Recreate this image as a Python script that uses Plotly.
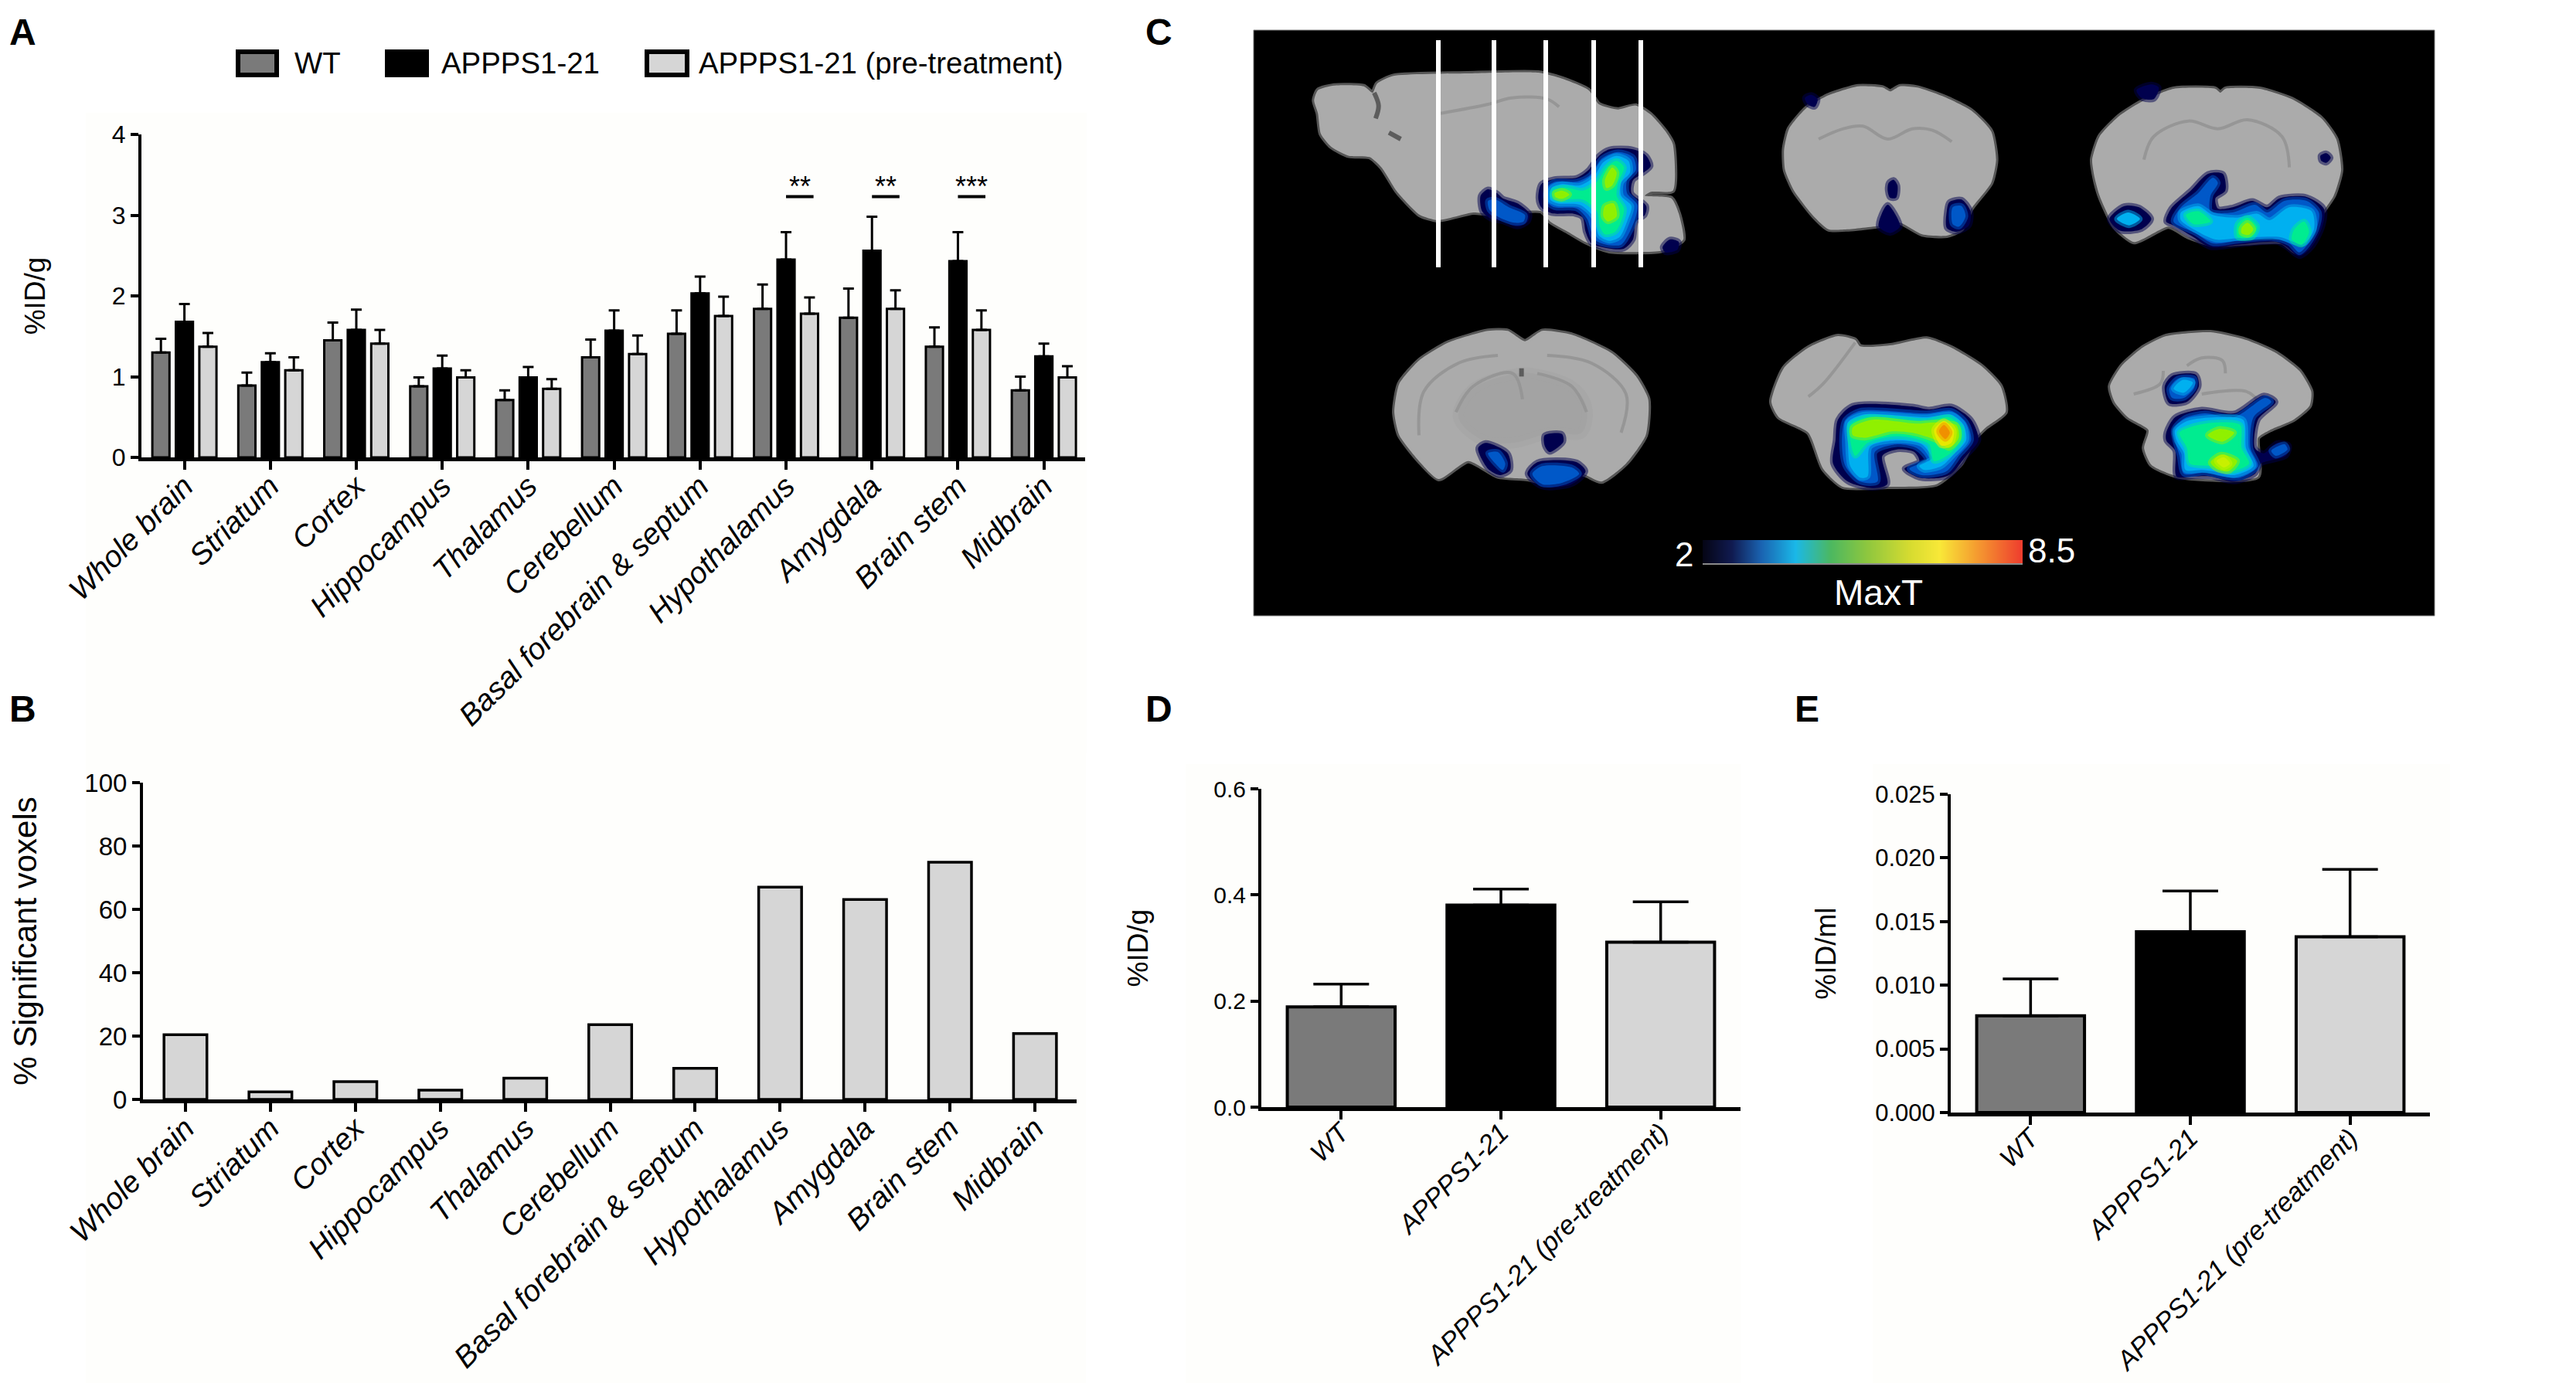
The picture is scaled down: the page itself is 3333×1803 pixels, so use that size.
import plotly.graph_objects as go

W, H = 3333, 1803
PAGE_MARGIN = 8  # the browser body margin pushes the plot by this much
FONT = "Liberation Sans"

regions = ['Whole brain', 'Striatum', 'Cortex', 'Hippocampus', 'Thalamus', 'Cerebellum',
           'Basal forebrain & septum', 'Hypothalamus', 'Amygdala', 'Brain stem', 'Midbrain']
groups = ['WT', 'APPPS1-21', 'APPPS1-21 (pre-treatment)']

# panel A, means and tops of the error bars
a_wt = [1.30, 0.89, 1.45, 0.88, 0.71, 1.24, 1.53, 1.84, 1.73, 1.37, 0.83]
a_app = [1.68, 1.18, 1.58, 1.10, 0.99, 1.57, 2.03, 2.45, 2.56, 2.43, 1.25]
a_pre = [1.37, 1.08, 1.41, 0.99, 0.85, 1.28, 1.75, 1.78, 1.84, 1.58, 0.99]
a_wt_top = [1.47, 1.05, 1.67, 0.99, 0.83, 1.46, 1.82, 2.14, 2.09, 1.61, 1.00]
a_app_top = [1.90, 1.29, 1.83, 1.26, 1.12, 1.82, 2.24, 2.79, 2.98, 2.79, 1.41]
a_pre_top = [1.54, 1.24, 1.58, 1.08, 0.97, 1.51, 1.99, 1.98, 2.07, 1.82, 1.13]

sig_start = [7, 8, 9]
sig_stars = ['**', '**', '***']

# panel B
b_voxels = [20.4, 2.4, 5.6, 2.9, 6.7, 23.6, 9.8, 67.0, 63.1, 74.9, 20.8]

# panels D and E
d_vals = [0.189, 0.381, 0.311]
d_tops = [0.232, 0.411, 0.387]
e_vals = [0.0076, 0.0142, 0.0138]
e_tops = [0.0105, 0.0174, 0.0191]

GREY_BAR = '#7a7a7a'
LIGHT_BAR = '#d6d6d6'
CREAM = '#fefefc'
BRAIN = '#ababab'
SULCUS = '#969696'
NAVY = '#00004e'
BLUE = '#0058c8'
CYAN = '#00b0f0'
GREEN = '#00ec90'
LIME = '#90f000'
YELLOW = '#e8e800'
ORANGE = '#f09000'

# panel C is drawn on an axis in image pixels, outlines were read from four crops
# crop = (left, top, x scale, y scale)
CROP_TL = (1600, 20, 2.613, 3)
CROP_TR = (2200, 20, 1.568, 3)
CROP_BL = (1600, 400, 1.568, 3)
CROP_BR = (2600, 400, 2.613, 3)

slice_x = [1861, 1933, 2000, 2062, 2123]
slice_top = 52
slice_bottom = 346

brain_outlines = [
    (CROP_TL, [(262, 330), (275, 290), (330, 272), (430, 275), (460, 300), (475, 265), (530, 235), (780, 225), (1020, 222),
               (1100, 245), (1190, 290), (1225, 345), (1290, 365), (1350, 350), (1400, 385), (1450, 450), (1475, 500),
               (1475, 680), (1400, 685), (1380, 700), (1470, 710), (1495, 770), (1510, 870), (1470, 900), (1430, 915),
               (1260, 915), (1180, 880), (1120, 840), (1060, 800), (1030, 760), (850, 770), (800, 765), (680, 795),
               (620, 775), (570, 720), (540, 680), (490, 590), (450, 550), (380, 545), (320, 510), (285, 460), (275, 380)]),
    (CROP_TR, [(170, 520), (180, 440), (215, 360), (260, 310), (320, 275), (370, 280), (385, 295), (405, 275), (440, 280),
               (500, 320), (550, 370), (590, 450), (600, 560), (590, 650), (550, 750), (530, 830), (500, 855), (450, 850),
               (405, 805), (370, 815), (300, 830), (260, 830), (230, 780), (190, 680), (172, 600)]),
    (CROP_TR, [(795, 560), (810, 470), (850, 390), (900, 330), (960, 285), (1045, 285), (1055, 300), (1065, 285), (1135, 285),
               (1200, 325), (1260, 400), (1290, 480), (1300, 600), (1285, 700), (1260, 770), (1230, 850), (1210, 920),
               (1180, 880), (1040, 890), (990, 860), (950, 820), (880, 880), (840, 820), (810, 700), (800, 630)]),
    (CROP_BL, [(320, 400), (330, 290), (370, 200), (430, 130), (510, 85), (550, 85), (585, 125), (620, 85), (680, 100),
               (760, 170), (810, 260), (835, 350), (830, 490), (790, 600), (740, 670), (700, 640), (640, 680), (590, 660),
               (530, 650), (470, 590), (410, 660), (370, 590), (330, 490)]),
    (CROP_BL, [(1085, 360), (1110, 230), (1160, 150), (1220, 105), (1255, 120), (1265, 145), (1330, 140), (1400, 115),
               (1450, 150), (1510, 220), (1550, 300), (1560, 400), (1520, 460), (1495, 510), (1470, 600), (1420, 680),
               (1320, 690), (1230, 690), (1190, 620), (1160, 480), (1100, 420)]),
    (CROP_BR, [(340, 300), (380, 220), (450, 150), (530, 105), (680, 90), (800, 120), (900, 170), (980, 240), (1020, 320),
               (1015, 375), (960, 430), (880, 470), (840, 500), (840, 650), (570, 650), (480, 605), (455, 540), (470, 470),
               (400, 420), (355, 360)]),
]

# darker deep grey part inside the slice
inner_regions = [
    (CROP_BL, [(450, 420), (480, 310), (570, 250), (600, 250), (680, 300), (710, 380), (700, 480), (640, 480), (560, 520), (500, 510)]),
]

sulci = [
    (CROP_TL, [(690, 380), (850, 345), (930, 320), (1050, 325), (1090, 355)]),
    (CROP_TR, [(240, 480), (290, 440), (330, 430), (380, 480), (430, 440), (470, 445), (510, 490)]),
    (CROP_TR, [(900, 560), (920, 470), (990, 410), (1050, 440), (1110, 405), (1180, 470), (1195, 590)]),
    (CROP_BL, [(370, 490), (380, 320), (450, 210), (530, 180)]),
    (CROP_BL, [(780, 480), (790, 330), (720, 210), (630, 180)]),
    (CROP_BL, [(445, 400), (480, 300), (560, 250), (580, 350)]),
    (CROP_BL, [(710, 400), (680, 300), (610, 250)]),
    (CROP_BL, [(1160, 340), (1190, 290), (1255, 130)]),
    (CROP_BR, [(420, 330), (510, 290), (520, 240)]),
    (CROP_BR, [(650, 330), (800, 320), (840, 355)]),
    (CROP_BR, [(600, 220), (650, 190), (720, 200), (730, 250)]),
]
dark_sulci = [
    (CROP_TL, [(465, 300), (480, 350), (470, 400)]),
    (CROP_TL, [(515, 455), (555, 480)]),
    (CROP_BL, [(578, 230), (578, 262)]),
]

# significant voxels, from outer contour to inner contour
blobs = [
    (CROP_TL, NAVY, [(1030, 655), (1075, 635), (1150, 630), (1190, 600), (1225, 545), (1260, 520), (1340, 520), (1385, 545),
                     (1400, 585), (1370, 615), (1340, 640), (1335, 690), (1385, 740), (1380, 775), (1350, 800), (1340, 870),
                     (1310, 905), (1260, 905), (1200, 885), (1180, 840), (1170, 785), (1140, 770), (1065, 768), (1030, 745), (1020, 710)]),
    (CROP_TL, BLUE, [(1055, 660), (1080, 645), (1150, 645), (1195, 620), (1235, 555), (1290, 530), (1340, 550), (1350, 600),
                     (1320, 640), (1320, 690), (1355, 735), (1350, 780), (1325, 850), (1300, 890), (1250, 890), (1210, 870),
                     (1185, 790), (1150, 750), (1075, 745), (1050, 725), (1045, 690)]),
    (CROP_TL, CYAN, [(1065, 670), (1100, 655), (1160, 660), (1205, 630), (1240, 570), (1285, 545), (1325, 565), (1330, 610),
                     (1300, 650), (1300, 700), (1335, 740), (1320, 800), (1295, 860), (1260, 875), (1225, 855), (1205, 780),
                     (1160, 735), (1085, 730), (1060, 715)]),
    (CROP_TL, GREEN, [(1070, 680), (1110, 668), (1170, 680), (1215, 650), (1250, 590), (1285, 565), (1310, 590), (1290, 650),
                      (1285, 700), (1310, 750), (1300, 800), (1280, 840), (1245, 850), (1228, 820), (1218, 760), (1170, 715),
                      (1090, 715), (1068, 700)]),
    (CROP_TL, LIME, [(1075, 690), (1100, 680), (1125, 695), (1100, 712), (1078, 705)]),
    (CROP_TL, LIME, [(1245, 640), (1270, 590), (1285, 610), (1270, 660), (1250, 670)]),
    (CROP_TL, LIME, [(1245, 740), (1275, 730), (1285, 780), (1255, 800), (1240, 780)]),
    (CROP_TL, NAVY, [(825, 700), (850, 675), (880, 690), (900, 710), (950, 730), (990, 770), (985, 800), (950, 820), (900, 800), (860, 790), (830, 760)]),
    (CROP_TL, BLUE, [(850, 720), (875, 715), (920, 745), (975, 775), (970, 800), (940, 805), (890, 785), (855, 755)]),
    (CROP_TL, NAVY, [(1440, 900), (1465, 870), (1495, 880), (1490, 910), (1450, 920)]),

    (CROP_TR, NAVY, [(212, 320), (225, 308), (238, 325), (232, 355), (218, 345)]),
    (CROP_TR, NAVY, [(382, 650), (392, 638), (400, 660), (397, 708), (385, 708), (380, 680)]),
    (CROP_TR, NAVY, [(380, 735), (395, 770), (405, 820), (385, 845), (362, 820), (368, 770)]),
    (CROP_TR, NAVY, [(505, 725), (530, 715), (548, 760), (545, 815), (520, 840), (500, 825), (500, 760)]),
    (CROP_TR, BLUE, [(512, 745), (530, 740), (538, 780), (525, 820), (512, 810)]),

    (CROP_TR, NAVY, [(1030, 615), (1060, 615), (1065, 680), (1045, 710), (1050, 750), (1080, 745), (1120, 720), (1150, 745),
                     (1175, 710), (1230, 705), (1265, 750), (1262, 820), (1240, 900), (1215, 935), (1190, 900), (1170, 880),
                     (1090, 890), (1035, 900), (1000, 860), (960, 815), (945, 800), (955, 750), (995, 680)]),
    (CROP_TR, BLUE, [(1040, 630), (1050, 650), (1035, 700), (1035, 760), (1080, 765), (1125, 735), (1150, 765), (1185, 720),
                     (1230, 720), (1255, 765), (1250, 830), (1230, 895), (1215, 920), (1195, 885), (1160, 865), (1090, 875),
                     (1040, 885), (1005, 845), (960, 800), (975, 745), (1010, 690)]),
    (CROP_TR, CYAN, [(975, 765), (1010, 740), (1040, 775), (1090, 785), (1130, 770), (1155, 795), (1195, 745), (1240, 760),
                     (1245, 830), (1225, 885), (1205, 880), (1175, 860), (1090, 865), (1045, 870), (1005, 835), (975, 795)]),
    (CROP_TR, GREEN, [(985, 775), (1010, 760), (1035, 800), (1000, 810)]),
    (CROP_TR, GREEN, [(1090, 810), (1110, 785), (1130, 820), (1120, 860), (1090, 860)]),
    (CROP_TR, GREEN, [(1205, 830), (1225, 800), (1235, 840), (1220, 890), (1200, 870)]),
    (CROP_TR, LIME, [(1098, 825), (1110, 805), (1122, 830), (1112, 852), (1098, 845)]),
    (CROP_TR, NAVY, [(830, 790), (860, 740), (890, 745), (915, 790), (895, 830), (850, 835)]),
    (CROP_TR, CYAN, [(845, 790), (868, 765), (892, 790), (870, 815)]),
    (CROP_TR, NAVY, [(885, 290), (915, 268), (930, 280), (920, 325), (895, 320)]),
    (CROP_TR, NAVY, [(1258, 545), (1270, 535), (1279, 552), (1270, 572), (1260, 565)]),

    (CROP_BL, NAVY, [(490, 540), (505, 520), (550, 560), (555, 625), (535, 645), (510, 620)]),
    (CROP_BL, BLUE, [(510, 560), (530, 555), (545, 600), (540, 625), (525, 600)]),
    (CROP_BL, NAVY, [(625, 490), (660, 485), (663, 515), (635, 555), (625, 530)]),
    (CROP_BL, NAVY, [(590, 640), (610, 595), (690, 595), (708, 630), (680, 680), (620, 690)]),
    (CROP_BL, BLUE, [(600, 640), (620, 610), (680, 615), (695, 640), (660, 675), (620, 680)]),

    (CROP_BL, NAVY, [(1220, 430), (1250, 375), (1370, 378), (1405, 390), (1450, 378), (1490, 430), (1505, 510), (1480, 570),
                     (1450, 640), (1430, 655), (1385, 655), (1355, 620), (1385, 590), (1375, 555), (1340, 545), (1310, 570),
                     (1320, 680), (1290, 695), (1240, 670), (1210, 600), (1215, 510)]),
    (CROP_BL, BLUE, [(1235, 430), (1265, 395), (1400, 405), (1450, 395), (1480, 440), (1490, 510), (1465, 570), (1440, 630),
                     (1390, 645), (1365, 620), (1400, 585), (1380, 540), (1340, 525), (1295, 555), (1300, 670), (1265, 670),
                     (1235, 610), (1228, 510)]),
    (CROP_BL, CYAN, [(1240, 440), (1270, 410), (1400, 420), (1450, 410), (1475, 450), (1480, 510), (1455, 565), (1430, 610),
                     (1395, 625), (1385, 610), (1410, 580), (1390, 525), (1340, 510), (1285, 535), (1280, 650), (1265, 655),
                     (1245, 610), (1240, 510)]),
    (CROP_BL, GREEN, [(1245, 450), (1280, 420), (1400, 435), (1445, 420), (1470, 460), (1470, 510), (1445, 565), (1415, 590),
                      (1405, 525), (1370, 500), (1330, 495), (1280, 520), (1255, 570), (1245, 510)]),
    (CROP_BL, LIME, [(1250, 460), (1290, 430), (1380, 445), (1415, 440), (1460, 450), (1465, 500), (1445, 540), (1420, 510),
                     (1370, 480), (1330, 475), (1275, 500), (1250, 490)]),
    (CROP_BL, YELLOW, [(1415, 470), (1435, 435), (1455, 470), (1450, 520), (1430, 530)]),
    (CROP_BL, ORANGE, [(1425, 475), (1435, 450), (1447, 480), (1438, 505)]),

    (CROP_BR, NAVY, [(525, 300), (550, 260), (630, 255), (640, 300), (600, 360), (540, 365)]),
    (CROP_BR, BLUE, [(540, 310), (570, 270), (625, 270), (625, 305), (590, 345), (550, 345)]),
    (CROP_BR, CYAN, [(555, 310), (585, 275), (620, 285), (590, 325)]),
    (CROP_BR, NAVY, [(530, 480), (560, 420), (650, 390), (760, 405), (860, 335), (900, 360), (840, 430), (830, 540), (860, 560),
                     (905, 520), (945, 530), (935, 570), (850, 600), (830, 640), (760, 670), (680, 650), (620, 650), (565, 650),
                     (560, 550), (530, 510)]),
    (CROP_BR, BLUE, [(885, 550), (930, 525), (940, 545), (900, 570)]),
    (CROP_BR, BLUE, [(555, 470), (590, 425), (660, 405), (760, 420), (865, 345), (885, 360), (825, 420), (815, 540), (840, 610),
                     (780, 655), (720, 650), (660, 635), (590, 640), (575, 570)]),
    (CROP_BR, CYAN, [(560, 470), (600, 435), (700, 420), (790, 430), (800, 540), (825, 610), (760, 645), (690, 630), (650, 625),
                     (595, 625), (590, 560), (565, 510)]),
    (CROP_BR, GREEN, [(575, 480), (620, 455), (700, 440), (780, 450), (785, 540), (810, 600), (750, 630), (680, 610), (610, 600), (600, 540)]),
    (CROP_BR, LIME, [(670, 490), (710, 465), (760, 480), (720, 515)]),
    (CROP_BR, LIME, [(680, 595), (715, 565), (770, 590), (740, 630), (700, 620)]),
    (CROP_BR, '#c8f000', [(700, 590), (725, 575), (745, 600), (725, 615)]),
]

# MaxT scale
maxt_vals = [2.0, 2.5, 3.0, 3.5, 4.0, 4.5, 5.0, 5.5, 6.0, 6.5, 7.0, 7.5, 8.0, 8.5]
maxt_scale = [[0.0, '#050515'], [0.09, '#101a50'], [0.18, '#1a62b0'], [0.29, '#1ab8e8'], [0.40, '#4cb860'],
              [0.51, '#8cc63f'], [0.65, '#d8dc30'], [0.74, '#f8e838'], [0.85, '#f5a030'], [1.0, '#ee3b2e']]


def dom_x(left, right):
    return [(left - PAGE_MARGIN) / W, (right - PAGE_MARGIN) / W]


def dom_y(top, bottom):
    return [1 - (bottom - PAGE_MARGIN) / H, 1 - (top - PAGE_MARGIN) / H]


def crop_xy(crop, pts):
    left, top, sx, sy = crop
    return [left + p[0] / sx for p in pts], [top + p[1] / sy for p in pts]


def soft(color, alpha=0.5):
    r, g, b = int(color[1:3], 16), int(color[3:5], 16), int(color[5:7], 16)
    return f'rgba({r},{g},{b},{alpha})'


def err(tops, vals):
    return [round(t - v, 4) for t, v in zip(tops, vals)]


def err_bar(tops, vals, thick, half):
    return dict(type='data', symmetric=False, array=err(tops, vals), arrayminus=[0] * len(vals),
                color='black', thickness=thick, width=half)


fig = go.Figure()

fig.add_bar(x=regions, y=a_wt, marker=dict(color=GREY_BAR, line=dict(color='black', width=3)),
            error_y=err_bar(a_wt_top, a_wt, 3, 7), xaxis='x', yaxis='y', showlegend=False, name=groups[0])
fig.add_bar(x=regions, y=a_app, marker=dict(color='black', line=dict(color='black', width=3)),
            error_y=err_bar(a_app_top, a_app, 3, 7), xaxis='x', yaxis='y', showlegend=False, name=groups[1])
fig.add_bar(x=regions, y=a_pre, marker=dict(color=LIGHT_BAR, line=dict(color='black', width=3)),
            error_y=err_bar(a_pre_top, a_pre, 3, 7), xaxis='x', yaxis='y', showlegend=False, name=groups[2])

fig.add_bar(x=regions, y=b_voxels, width=0.505, marker=dict(color=LIGHT_BAR, line=dict(color='black', width=3.5)),
            xaxis='x2', yaxis='y2', showlegend=False)

bar_colors = [GREY_BAR, 'black', LIGHT_BAR]
fig.add_bar(x=groups, y=d_vals, width=0.675, marker=dict(color=bar_colors, line=dict(color='black', width=4)),
            error_y=err_bar(d_tops, d_vals, 3.5, 36), xaxis='x3', yaxis='y3', showlegend=False)
fig.add_bar(x=groups, y=e_vals, width=0.675, marker=dict(color=bar_colors, line=dict(color='black', width=4)),
            error_y=err_bar(e_tops, e_vals, 3.5, 36), xaxis='x4', yaxis='y4', showlegend=False)

# panel C, half transparent outlines keep the steps between contours soft
for crop, pts in brain_outlines:
    xs, ys = crop_xy(crop, pts)
    fig.add_scatter(x=xs + xs[:1], y=ys + ys[:1], mode='lines', fill='toself', fillcolor=BRAIN,
                    line=dict(color=soft(BRAIN), width=6, shape='spline', smoothing=0.6),
                    xaxis='x5', yaxis='y5', showlegend=False, hoverinfo='skip')
for crop, pts in inner_regions:
    xs, ys = crop_xy(crop, pts)
    fig.add_scatter(x=xs + xs[:1], y=ys + ys[:1], mode='lines', fill='toself', fillcolor='#a3a3a3',
                    line=dict(color=soft('#a3a3a3'), width=14, shape='spline'),
                    xaxis='x5', yaxis='y5', showlegend=False, hoverinfo='skip')
for crop, pts in sulci:
    xs, ys = crop_xy(crop, pts)
    fig.add_scatter(x=xs, y=ys, mode='lines', line=dict(color=SULCUS, width=4, shape='spline'),
                    xaxis='x5', yaxis='y5', showlegend=False, hoverinfo='skip')
for crop, pts in dark_sulci:
    xs, ys = crop_xy(crop, pts)
    fig.add_scatter(x=xs, y=ys, mode='lines', line=dict(color='#5c5c5c', width=6, shape='spline'),
                    xaxis='x5', yaxis='y5', showlegend=False, hoverinfo='skip')
for crop, color, pts in blobs:
    xs, ys = crop_xy(crop, pts)
    fig.add_scatter(x=xs + xs[:1], y=ys + ys[:1], mode='lines', fill='toself', fillcolor=color,
                    line=dict(color=soft(color), width=7, shape='spline', smoothing=0.8),
                    xaxis='x5', yaxis='y5', showlegend=False, hoverinfo='skip')
for sx in slice_x:
    fig.add_scatter(x=[sx, sx], y=[slice_top, slice_bottom], mode='lines', line=dict(color='white', width=6),
                    xaxis='x5', yaxis='y5', showlegend=False, hoverinfo='skip')

fig.add_heatmap(x=maxt_vals, y=[0, 1], z=[maxt_vals, maxt_vals], colorscale=maxt_scale, zmin=2, zmax=8.5,
                zsmooth='best', showscale=False, xaxis='x6', yaxis='y6', hoverinfo='skip')

tick_font = dict(family=FONT, size=32, color='black')
cat_font = dict(family=FONT, size=39, color='black', style='italic')
title_font = dict(family=FONT, size=37, color='black')

x_base = dict(type='category', showgrid=False, zeroline=False, showline=True, linecolor='black', linewidth=5,
              ticks='outside', ticklen=11, tickwidth=4, tickcolor='black', tickangle=-45, tickfont=cat_font,
              ticklabelstandoff=-17, automargin=False)
y_base = dict(showgrid=False, zeroline=False, showline=True, linecolor='black', linewidth=4,
              ticks='outside', ticklen=10, tickwidth=4, tickcolor='black', tickfont=tick_font, automargin=False)
hidden = dict(visible=False, showgrid=False, zeroline=False, automargin=False)

cat_small = dict(cat_font, size=34.5)

layout_axes = dict(
    xaxis=dict(x_base, domain=dom_x(183, 1404), range=[-0.5, 10.48], anchor='y'),
    yaxis=dict(y_base, domain=dom_y(174, 592), range=[0, 4], tickvals=[0, 1, 2, 3, 4], anchor='x',
               title=dict(text='%ID/g', font=title_font, standoff=76)),
    xaxis2=dict(x_base, domain=dom_x(185, 1393), range=[-0.5, 10.49], anchor='y2'),
    yaxis2=dict(y_base, domain=dom_y(1013, 1423), range=[0, 100], tickvals=[0, 20, 40, 60, 80, 100], anchor='x2',
                tickfont=dict(tick_font, size=33),
                title=dict(text='% Significant voxels', font=dict(title_font, size=42), standoff=50)),
    xaxis3=dict(x_base, domain=dom_x(1632, 2252), range=[-0.5, 2.5], anchor='y3', tickfont=cat_small),
    yaxis3=dict(y_base, domain=dom_y(1021, 1433), range=[0, 0.6], tickvals=[0, 0.2, 0.4, 0.6], tickformat='.1f',
                anchor='x3', tickfont=dict(tick_font, size=30),
                title=dict(text='%ID/g', font=title_font, standoff=74)),
    xaxis4=dict(x_base, domain=dom_x(2524, 3144), range=[-0.5, 2.5], anchor='y4', tickfont=cat_small),
    yaxis4=dict(y_base, domain=dom_y(1028, 1440), range=[0, 0.025], tickvals=[0, 0.005, 0.01, 0.015, 0.02, 0.025],
                tickformat='.3f', anchor='x4', tickfont=dict(tick_font, size=31),
                title=dict(text='%ID/ml', font=title_font, standoff=40)),
    xaxis5=dict(hidden, domain=dom_x(1622, 3150), range=[1622, 3150], anchor='y5'),
    yaxis5=dict(hidden, domain=dom_y(39, 797), range=[797, 39], anchor='x5'),
    xaxis6=dict(hidden, domain=dom_x(2203, 2617), range=[2, 8.5], anchor='y6'),
    yaxis6=dict(hidden, domain=dom_y(699, 729), range=[0, 1], anchor='x6'),
)


def paper_rect(left, top, right, bottom, fill, line_color=None, line_width=0, layer='below'):
    x0, x1 = dom_x(left, right)
    y0, y1 = dom_y(top, bottom)
    return dict(type='rect', xref='paper', yref='paper', x0=x0, x1=x1, y0=y0, y1=y1,
                fillcolor=fill, line=dict(color=line_color or fill, width=line_width), layer=layer)


def paper_text(x, y, text, size, color='black', weight='normal', xanchor='left'):
    return dict(xref='paper', yref='paper', x=(x - PAGE_MARGIN) / W, y=1 - (y - PAGE_MARGIN) / H, text=text,
                showarrow=False, xanchor=xanchor, yanchor='middle',
                font=dict(family=FONT, size=size, color=color, weight=weight))


bar_line_y = dom_y(730, 730)[0]
bar_line_x = dom_x(2203, 2617)
shapes = [
    paper_rect(111, 146, 1406, 975, CREAM),
    paper_rect(111, 975, 1405, 1790, CREAM),
    paper_rect(1534, 989, 2252, 1790, CREAM),
    paper_rect(2423, 989, 3170, 1790, CREAM),
    paper_rect(1622, 39, 3150, 797, 'black', '#777777', 1),
    dict(type='line', xref='paper', yref='paper', x0=bar_line_x[0], x1=bar_line_x[1], y0=bar_line_y, y1=bar_line_y,
         line=dict(color='#8a8a8a', width=2), layer='above'),
    paper_rect(308, 67, 358, 97, GREY_BAR, 'black', 6, 'above'),
    paper_rect(501, 67, 552, 97, 'black', 'black', 6, 'above'),
    paper_rect(837, 67, 889, 97, LIGHT_BAR, 'black', 6, 'above'),
]
for start in sig_start:
    shapes.append(dict(type='line', xref='x', yref='y', x0=start, x1=start + 0.32, y0=3.23, y1=3.23,
                       line=dict(color='black', width=4)))

annotations = [
    paper_text(10, 42, 'A', 48, weight='bold'),
    paper_text(10, 917, 'B', 48, weight='bold'),
    paper_text(1480, 42, 'C', 48, weight='bold'),
    paper_text(1480, 917, 'D', 48, weight='bold'),
    paper_text(2320, 917, 'E', 48, weight='bold'),
    paper_text(379, 82, groups[0], 38.4),
    paper_text(569, 82, groups[1], 38.4),
    paper_text(902, 82, groups[2], 38.4),
    paper_text(2179, 717, '2', 44, 'white', xanchor='center'),
    paper_text(2654, 712, '8.5', 44, 'white', xanchor='center'),
    paper_text(2430, 767, 'MaxT', 46, 'white', xanchor='center'),
]
for start, stars in zip(sig_start, sig_stars):
    annotations.append(dict(xref='x', yref='y', x=start + 0.16, y=3.35, text=stars, showarrow=False,
                            font=dict(family=FONT, size=36, color='black')))

fig.update_layout(
    width=W, height=H, margin=dict(l=0, r=0, t=0, b=0), autosize=False,
    paper_bgcolor='white', plot_bgcolor='rgba(0,0,0,0)', barmode='group', bargap=0.18, bargroupgap=0.27,
    font=dict(family=FONT), shapes=shapes, annotations=annotations, **layout_axes,
)

fig.write_html("out.html")
